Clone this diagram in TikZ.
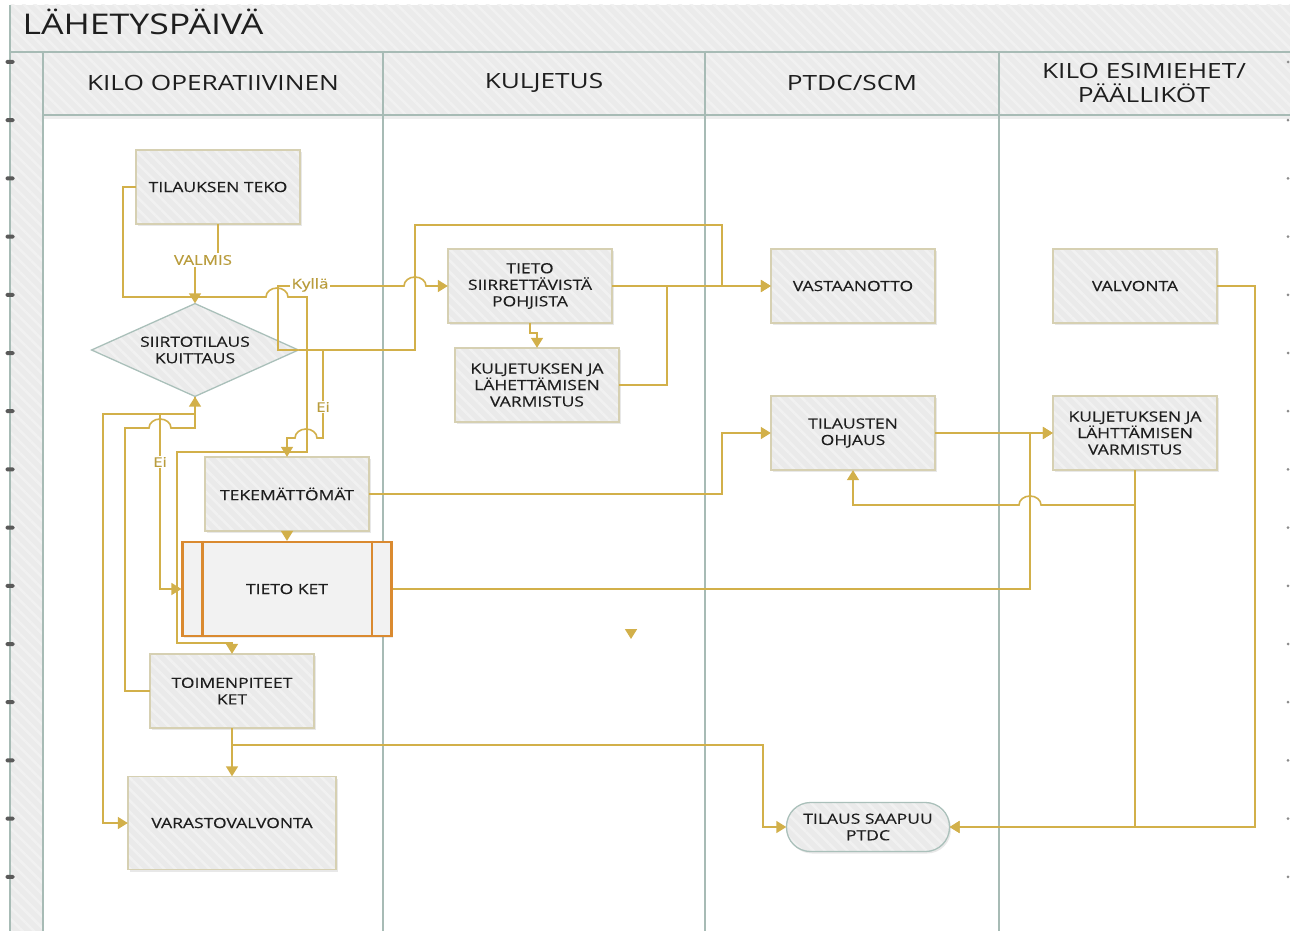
\documentclass[tikz,border=0pt]{standalone}
\usepackage{fontspec}
\setmainfont{Open Sans}[FakeStretch=1.25]
\newfontfamily\boxfont{Open Sans}[FakeStretch=1.25,FakeBold=0.3]
\usetikzlibrary{arrows.meta,shapes.geometric,shadows,patterns.meta}

\definecolor{lanegrid}{HTML}{A7BBB5}
\definecolor{bandfill}{HTML}{EBEBEB}
\definecolor{stripe}{HTML}{F1F1F1}
\definecolor{boxfill}{HTML}{EAEAEA}
\definecolor{boxline}{HTML}{D6D0B2}
\definecolor{decline}{HTML}{AAC0BA}
\definecolor{flow}{HTML}{D2B04A}
\definecolor{flowtext}{HTML}{B99C3C}
\definecolor{ketline}{HTML}{DA8A30}
\definecolor{ink}{HTML}{1E1E1E}
\definecolor{tickmark}{HTML}{5A5A5A}

\tikzset{
  stripes/.style={pattern={Lines[angle=-45,distance=8pt,line width=2.5pt]}, pattern color=stripe},
  hatched/.style={fill=bandfill, postaction={stripes}},
  boxtext/.style={text=ink, font=\boxfont\fontsize{14pt}{16.5pt}\selectfont, align=center},
  procbox/.style={boxtext, fill=boxfill,
    postaction={stripes}, postaction={draw=boxline, line width=1.3pt},
    drop shadow={shadow xshift=1.5pt, shadow yshift=-2pt, opacity=0.18},
    minimum width=164pt, minimum height=74pt, inner sep=2pt},
  decision/.style={boxtext, shape=diamond, aspect=2.23, fill=boxfill,
    postaction={stripes}, postaction={draw=decline, line width=1.3pt},
    minimum width=207pt, minimum height=93pt, inner sep=0pt},
  terminal/.style={boxtext, fill=boxfill, rounded corners=24pt,
    postaction={stripes}, postaction={draw=decline, line width=1.3pt},
    drop shadow={shadow xshift=1.5pt, shadow yshift=-2pt, opacity=0.18},
    minimum width=163pt, minimum height=49pt, inner sep=1pt},
  subproc/.style={boxtext, draw=ketline, line width=2.2pt, fill=boxfill!60!white,
    minimum width=209pt, minimum height=94pt,
    drop shadow={shadow xshift=1.5pt, shadow yshift=-2pt, opacity=0.15}},
  flowline/.style={draw=flow, line width=1.6pt, >={Triangle[length=10pt,width=12pt]}},
  flowlabel/.style={fill=white, text=flowtext, inner sep=1.5pt, font=\boxfont\fontsize{13.5pt}{16pt}\selectfont},
  lanehead/.style={text=ink, font=\fontsize{21pt}{24pt}\selectfont, align=center},
  grid/.style={draw=lanegrid, line width=1.5pt}
}

\begin{document}
\begin{tikzpicture}[x=1pt,y=-1pt]
\useasboundingbox (0,0) rectangle (1290,931);
\fill[white] (0,0) rectangle (1290,931);

% swimlane frame
\path[hatched] (10,5) rectangle (1290,52);
\path[hatched] (10,52) rectangle (43,931);
\path[hatched] (43,52) rectangle (1290,115);
\fill[black,opacity=0.07] (43,115) rectangle (1290,119);
\draw[grid] (10,5) -- (10,931);
\draw[grid] (10,52) -- (1290,52);
\draw[grid] (43,115) -- (1290,115);
\foreach \lx in {43,383,705,999} \draw[grid] (\lx,52) -- (\lx,931);
\foreach \k in {0,...,14} {
  \fill[tickmark,rounded corners=1.5pt] (5.5,{60+58.2*\k}) rectangle ++(9,4);
  \fill[tickmark!70] (1288,{62+58.2*\k}) circle[radius=1.5pt];
}

\node[anchor=base west, text=ink, font=\fontsize{28.5pt}{30pt}\selectfont] (title) at (19,35) {LÄHETYSPÄIVÄ};
\node[lanehead] (lane1) at (213,83) {KILO OPERATIIVINEN};
\node[lanehead] (lane2) at (544,83) {KULJETUS};
\node[lanehead] (lane3) at (852,83) {PTDC/SCM};
\node[lanehead] (lane4) at (1144,83) {KILO ESIMIEHET/\\PÄÄLLIKÖT};

% process steps
\node[procbox] (tek) at (218,187) {TILAUKSEN TEKO};
\node[decision] (kuit) at (195,350) {SIIRTOTILAUS\\KUITTAUS};
\node[procbox] (tsp) at (530,286) {TIETO\\SIIRRETTÄVISTÄ\\POHJISTA};
\node[procbox] (klv1) at (537,385) {KULJETUKSEN JA\\LÄHETTÄMISEN\\VARMISTUS};
\node[procbox] (vast) at (853,286) {VASTAANOTTO};
\node[procbox] (valv) at (1135,286) {VALVONTA};
\node[procbox] (toh) at (853,433) {TILAUSTEN\\OHJAUS};
\node[procbox] (klv2) at (1135,433) {KULJETUKSEN JA\\LÄHTTÄMISEN\\VARMISTUS};
\node[procbox] (tekm) at (287,494) {TEKEMÄTTÖMÄT};
\node[subproc] (ket) at (287,589) {TIETO KET};
\draw[ketline, line width=2.2pt] (ket.north west) ++(21,0) -- ++(0,94);
\draw[ketline, line width=2.2pt] (ket.north east) ++(-21,0) -- ++(0,94);
\node[procbox] (toim) at (232,691) {TOIMENPITEET\\KET};
\node[procbox, minimum width=208pt, minimum height=93pt] (vara) at (232,823) {VARASTOVALVONTA};
\node[terminal] (saap) at (868,827) {TILAUS SAAPUU\\PTDC};

% connectors
\node[flowlabel] (valmis) at (203,260) {VALMIS};
\draw[flowline] (tek.south) -- (tek.south |- valmis.north);
\draw[flowline,->] (kuit.north |- valmis.south) -- (kuit.north);

\draw[flowline,->] (tek.west) -- (123,187) -- (123,297) -- (266,297)
  arc[start angle=180,end angle=0,x radius=11pt,y radius=9pt]
  -- (307,297) -- (307,452) -- (177,452) -- (177,643) -| (toim.north);

\draw[flowline,->] (kuit.east) -- (278,350) -- (278,286) -- (404,286)
  arc[start angle=180,end angle=0,x radius=11pt,y radius=9pt] -- (tsp.west);
\node[flowlabel] (kylla) at (310,285) {Kyllä};

\draw[flowline,->] (kuit.east) -- (415,350) -- (415,225) -- (722,225) -- (722,286) -- (vast.west);

\draw[flowline,->] (kuit.east) -- (323,350) -- (323,438) -- (317,438)
  arc[start angle=0,end angle=180,x radius=11pt,y radius=9pt] -| (tekm.north);
\node[flowlabel] (eiright) at (323,407) {Ei};

\draw[flowline,->] (kuit.south) -- (195,414) -- (103,414) |- (vara.west);
\draw[flowline,->] (kuit.south) -- (195,414) -- (160,414) |- (ket.west);
\node[flowlabel] (eileft) at (160,462) {Ei};

\draw[flowline,->] (toim.west) -- (125,691) -- (125,428) -- (149,428)
  arc[start angle=180,end angle=0,x radius=11pt,y radius=9pt] -- (195,428) -- (kuit.south);

\draw[flowline,->] (tsp.east) -- (vast.west);
\draw[flowline] (klv1.east) -- (667,385) -- (667,286);
\draw[flowline,->] (tsp.south) -- ++(0,10) -| (klv1.north);

\draw[flowline,->] (tekm.south) -- (ket.north);
\draw[flowline,->] (tekm.east) -- (722,494) |- (toh.west);
\draw[flowline,->] (ket.east) -- (1030,589) |- (klv2.west);
\draw[flowline,->] (toh.east) -- (klv2.west);
\draw[flowline,->] (klv2.south) |- (1041,505)
  arc[start angle=0,end angle=180,x radius=11pt,y radius=9pt] -| (toh.south);
\draw[flowline,->] (klv2.south) |- (saap.east);
\draw[flowline,->] (valv.east) -- (1255,286) |- (saap.east);

\draw[flowline,->] (toim.south) -- (vara.north);
\draw[flowline,->] (toim.south) -- (232,745) -- (763,745) |- (saap.west);

\coordinate (loose) at (631,639);
\draw[flowline,->] (631,630) -- (loose);
\end{tikzpicture}
\end{document}
